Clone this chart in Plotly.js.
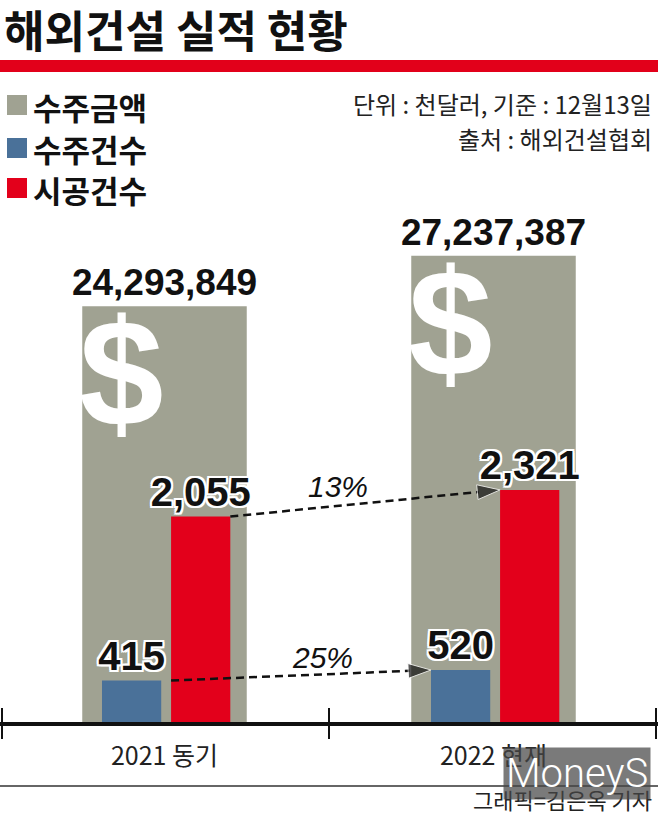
<!DOCTYPE html>
<html><head><meta charset="utf-8">
<script src="https://cdn.plot.ly/plotly-3.0.1.min.js"></script>
<style>html,body{margin:0;padding:0;background:#fff;overflow:hidden}</style>
</head><body><div id="chart" style="width:658px;height:814px"></div>
<script>
// ---- data ----
const categories = ['2021 동기', '2022 현재'];
const seriesNames = ['수주금액', '수주건수', '시공건수'];
const orderAmount = [24293849, 27237387];      // 수주금액 (천달러)
const orderCount = [415, 520];                  // 수주건수
const constructionCount = [2055, 2321];         // 시공건수
const titleText = '해외건설 실적 현황';
const noteLines = ['단위 : 천달러, 기준 : 12월13일', '출처 : 해외건설협회'];
const creditText = '그래픽=김은옥 기자';
const watermark = 'MoneyS';

// ---- style ----
const colors = ['#a0a292', '#4a7199', '#e3001b'];
const KR = 'Noto Sans CJK KR';
const NUM = 'Liberation Sans, Arial, sans-serif';
const W = 658, H = 814, T = 200, B = 92;
const plotH = H - T - B;
const py = p => (H - B - p) / plotH;   // pixel y -> paper y
const pxx = p => p / W;                // pixel x -> paper x
const halo = '2px 0 0 #fff, -2px 0 0 #fff, 0 2px 0 #fff, 0 -2px 0 #fff, 2px 2px 0 #fff, -2px -2px 0 #fff, 2px -2px 0 #fff, -2px 2px 0 #fff';

const xs = categories.map((c, i) => i + 0.5);
const pct = (a, b) => Math.round((b[1] / b[0] - 1) * 100) + '%';

const traces = [
  {type: 'bar', name: seriesNames[0], x: xs, y: orderAmount, yaxis: 'y',
   width: 0.5, offset: -0.25, marker: {color: colors[0]},
   texttemplate: '%{y:,}', textposition: 'outside', constraintext: 'none', cliponaxis: false,
   textfont: {family: NUM, size: 37, weight: 700, color: '#111'}, hoverinfo: 'skip'},
  {type: 'bar', name: seriesNames[1], x: xs, y: orderCount, yaxis: 'y2',
   width: 0.18, offset: -0.19, marker: {color: colors[1]},
   texttemplate: '%{y:,}', textposition: 'outside', constraintext: 'none', cliponaxis: false,
   textfont: {family: NUM, size: 40, weight: 700, color: '#111', shadow: halo}, hoverinfo: 'skip'},
  {type: 'bar', name: seriesNames[2], x: xs, y: constructionCount, yaxis: 'y2',
   width: 0.18, offset: 0.02, marker: {color: colors[2]},
   texttemplate: '%{y:,}', textposition: 'outside', constraintext: 'none', cliponaxis: false,
   textfont: {family: NUM, size: 40, weight: 700, color: '#111', shadow: halo}, hoverinfo: 'skip'},
  // change arrows
  {type: 'scatter', mode: 'lines+markers', x: [xs[0] + 0.2, xs[1] + 0.02], y: constructionCount, yaxis: 'y2',
   line: {color: '#111', width: 2.5, dash: '8px,5px'},
   marker: {symbol: ['circle', 'arrow'], size: [10, 24], color: '#111', angleref: 'previous'},
   cliponaxis: false, hoverinfo: 'skip'},
  {type: 'scatter', mode: 'lines+markers', x: [xs[0] + 0.02, xs[1] - 0.19], y: orderCount, yaxis: 'y2',
   line: {color: '#111', width: 2.5, dash: '8px,5px'},
   marker: {symbol: ['circle', 'arrow'], size: [10, 24], color: '#111', angleref: 'previous'},
   cliponaxis: false, hoverinfo: 'skip'}
];

const annotations = [];
// dollar signs on amount bars
xs.forEach((x, i) => annotations.push({
  xref: 'x', yref: 'y', x: x - 0.131, y: orderAmount[i], xanchor: 'center', yanchor: 'top',
  yshift: 20, text: '$', showarrow: false,
  font: {family: 'Liberation Sans, Arial', size: 152, weight: 700, color: '#fff'}
}));
// percent labels
annotations.push({xref: 'x', yref: 'y2', x: (xs[0] + 0.2 + xs[1] + 0.02) / 2,
  y: (constructionCount[0] + constructionCount[1]) / 2, xshift: -27, yshift: 17,
  text: pct(null, constructionCount), showarrow: false,
  font: {family: NUM, size: 30, style: 'italic', color: '#111'}});
annotations.push({xref: 'x', yref: 'y2', x: (xs[0] + 0.02 + xs[1] - 0.19) / 2,
  y: (orderCount[0] + orderCount[1]) / 2, xshift: 21, yshift: 18,
  text: pct(null, orderCount), showarrow: false,
  font: {family: NUM, size: 30, style: 'italic', color: '#111'}});
// legend text
[106, 148, 189].forEach((p, i) => annotations.push({
  xref: 'paper', yref: 'paper', x: pxx(31), y: py(p), xanchor: 'left', yanchor: 'middle',
  text: seriesNames[i], showarrow: false,
  font: {family: KR, size: 31, weight: 700, color: '#111'}
}));
// notes
[103, 138].forEach((p, i) => annotations.push({
  xref: 'paper', yref: 'paper', x: pxx(654), y: py(p), xanchor: 'right', yanchor: 'middle',
  text: noteLines[i], showarrow: false, font: {family: KR, size: 24, color: '#222'}
}));
// watermark and credit
annotations.push({xref: 'paper', yref: 'paper', x: pxx(654), y: py(799), xanchor: 'right', yanchor: 'middle',
  text: creditText, showarrow: false, font: {family: KR, size: 22, color: '#222'}});
annotations.push({xref: 'paper', yref: 'paper', x: pxx(577), y: py(773), xanchor: 'center', yanchor: 'middle',
  text: watermark, showarrow: false, bgcolor: 'rgba(70,70,70,0.72)', borderpad: 2,
  font: {family: 'Roboto', size: 40, weight: 300, color: '#fff'}});

const shapes = [
  {type: 'rect', xref: 'paper', yref: 'paper', x0: 0, x1: 1, y0: py(72), y1: py(60),
   fillcolor: '#e2001a', line: {width: 0}},
  {type: 'line', xref: 'paper', yref: 'paper', x0: 0, x1: 1, y0: py(786), y1: py(786),
   line: {color: '#333', width: 1.5}}
];
// legend squares
[[95, 115], [138, 158], [178, 198]].forEach((r, i) => shapes.push({
  type: 'rect', xref: 'paper', yref: 'paper', x0: pxx(7), x1: pxx(27), y0: py(r[1]), y1: py(r[0]),
  fillcolor: colors[i], line: {width: 0}}));
// axis ticks
[2, 329, 656].forEach(p => shapes.push({
  type: 'line', xref: 'paper', yref: 'paper', x0: pxx(p), x1: pxx(p), y0: py(739), y1: py(708),
  line: {color: '#111', width: 2}}));

const layout = {
  width: W, height: H,
  margin: {l: 0, r: 0, t: T, b: B, pad: 0},
  paper_bgcolor: '#fff', plot_bgcolor: '#fff',
  showlegend: false, barmode: 'overlay',
  title: {text: titleText, xref: 'container', yref: 'container', x: 4 / W, xanchor: 'left',
    y: 1 - 33 / H, yanchor: 'middle', font: {family: KR, size: 44, weight: 700, color: '#111'}},
  xaxis: {range: [0, 2], tickvals: xs, ticktext: categories, ticks: '', showgrid: false, zeroline: false,
    showline: true, linecolor: '#111', linewidth: 3.5, ticklabelstandoff: 9,
    tickfont: {family: KR, size: 25, color: '#222'}, fixedrange: true},
  yaxis: {range: [0, 30.5e6], visible: false, fixedrange: true},
  yaxis2: {range: [0, 5220], overlaying: 'y', visible: false, fixedrange: true},
  annotations: annotations, shapes: shapes
};
Plotly.newPlot('chart', traces, layout, {displayModeBar: false, staticPlot: true});
</script></body></html>
